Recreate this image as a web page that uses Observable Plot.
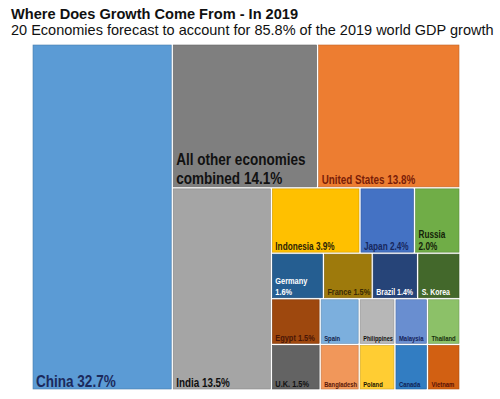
<!DOCTYPE html>
<html><head><meta charset="utf-8">
<script src="https://cdn.jsdelivr.net/npm/d3@7"></script>
<script src="https://cdn.jsdelivr.net/npm/@observablehq/plot@0.6"></script>
<style>
body{margin:0;background:#fff;}
#wrap{position:relative;width:500px;height:399px;overflow:hidden;background:#fff;}
#title{position:absolute;left:11px;top:4px;font:bold 14.6px "Liberation Sans",Arial,sans-serif;line-height:20px;color:#111;white-space:nowrap}
#sub{position:absolute;left:11px;top:22px;font:14.5px "Liberation Sans",Arial,sans-serif;line-height:17px;color:#111;white-space:nowrap}
#chart{position:absolute;left:0;top:40px}
</style></head><body>
<div id="wrap">
<div id="title">Where Does Growth Come From - In 2019</div>
<div id="sub">20 Economies forecast to account for 85.8% of the 2019 world GDP growth</div>
<div id="chart"></div>
</div>
<script>
// ---- data ----
const names = ["China","All other","United States","India","Indonesia","Japan","Russia",
  "Germany","France","Brazil","S. Korea","Egypt","U.K.","Spain","Philippines","Malaysia","Thailand",
  "Bangladesh","Poland","Canada","Vietnam"];
const labels = ["China 32.7%","All other economies\ncombined 14.1%","United States 13.8%","India 13.5%",
  "Indonesia 3.9%","Japan 2.4%","Russia\n2.0%","Germany\n1.6%","France 1.5%","Brazil 1.4%","S. Korea",
  "Egypt 1.5%","U.K. 1.5%","Spain","Philippines","Malaysia","Thailand","Bangladesh","Poland","Canada","Vietnam"];
const shares = [32.7,14.1,13.8,13.5,3.9,2.4,2.0,1.6,1.5,1.4,1.3,1.5,1.5,1.2,1.1,1.0,1.0,1.2,1.1,1.0,1.0];
// nesting of the tiles: "x" = side by side, "y" = stacked
const arrangement = ["x","China",
  ["y",["x","All other","United States"],
       ["x","India",
         ["y",["x","Indonesia","Japan","Russia"],
              ["y",["x","Germany","France","Brazil","S. Korea"],
                   ["x",["y","Egypt","U.K."],
                        ["y",["x","Spain","Philippines","Malaysia","Thailand"],
                             ["x","Bangladesh","Poland","Canada","Vietnam"]]]]]]]];

// ---- styles ----
const cellColors = ["#5b9bd5","#7f7f7f","#ed7d31","#a5a5a5","#ffc000","#4472c4","#70ad47",
  "#255e91","#9e7a0c","#264478","#43682b","#9e480e","#636363","#7cafdd","#b7b7b7","#698ed0","#8cc168",
  "#f1975a","#ffcd33","#327dc2","#d26012"];
const labelColors = ["#1b2a5c","#111111","#7a1e08","#111111","#2e2406","#17275e","#142208",
  "#ffffff","#3a2a04","#ffffff","#ffffff","#4a1606","#111111","#13254d","#111111","#13215a","#16300c",
  "#5a1606","#1e1800","#0f1f55","#5a1005"];
function fontSize(v){ return v>=14 ? 16.5 : v>=13 ? 12 : v>=2 ? 10 : v>=1.5 ? 9 : v>=1.3 ? 8.5 : 7.2; }
const squeeze = 0.82;

const W = 500, H = 359, mt = 4, mb = 9, ml = 32, mr = 40;
const iw = W-ml-mr, ih = H-mt-mb;

function build(spec){
  if (typeof spec === "string"){ const i = names.indexOf(spec); return {i, value: shares[i]}; }
  const [dir, ...kids] = spec; return {dir, children: kids.map(build)};
}
const root = d3.hierarchy(build(arrangement)).sum(d => d.value || 0);
d3.treemap().size([iw, ih]).round(false)
  .tile((node,x0,y0,x1,y1) => (node.data.dir === "x" ? d3.treemapDice : d3.treemapSlice)(node,x0,y0,x1,y1))(root);
const cells = root.leaves().map(n => ({x0:n.x0,x1:n.x1,y0:n.y0,y1:n.y1,i:n.data.i,share:n.data.value}));

const chart = Plot.plot({
  width: W, height: H, marginTop: mt, marginBottom: mb, marginLeft: ml, marginRight: mr,
  x: {domain:[0,iw], axis:null},
  y: {domain:[0,ih], reverse:true, axis:null},
  color: {type:"identity"},
  style: {background:"transparent"},
  marks: [
    Plot.rect(cells, {x1:"x0", x2:"x1", y1:"y0", y2:"y1", inset:1,
      fill: d => cellColors[d.i], stroke: d => d3.color(cellColors[d.i]).darker(0.6).formatHex(), strokeWidth:0.6}),
    Plot.text(cells, {x:"x0", y:"y1", text: d => labels[d.i], dx:3.5, dy:-4,
      textAnchor:"start", lineAnchor:"bottom", lineHeight:1.2,
      fontFamily:'"Liberation Sans",Arial,sans-serif',
      fontWeight:"bold", fontSize: d => fontSize(d.share), fill: d => labelColors[d.i]})
  ]
});
document.getElementById("chart").appendChild(chart);
// condense the bold labels horizontally (narrow face not installed) and keep them inside their tiles
const xs = chart.scale("x");
chart.querySelectorAll('g[aria-label="text"] text').forEach((t, k) => {
  const c = cells[k];
  const room = c ? (xs.apply(c.x1) - xs.apply(c.x0)) - 6 : Infinity;
  const spans = t.querySelectorAll("tspan");
  const parts = spans.length ? Array.from(spans) : [t];
  parts.forEach(p => {
    const len = p.getComputedTextLength();
    if (len > 0){ p.setAttribute("textLength", Math.min(len*squeeze, room).toFixed(2)); p.setAttribute("lengthAdjust","spacingAndGlyphs"); }
  });
});
</script>
</body></html>
